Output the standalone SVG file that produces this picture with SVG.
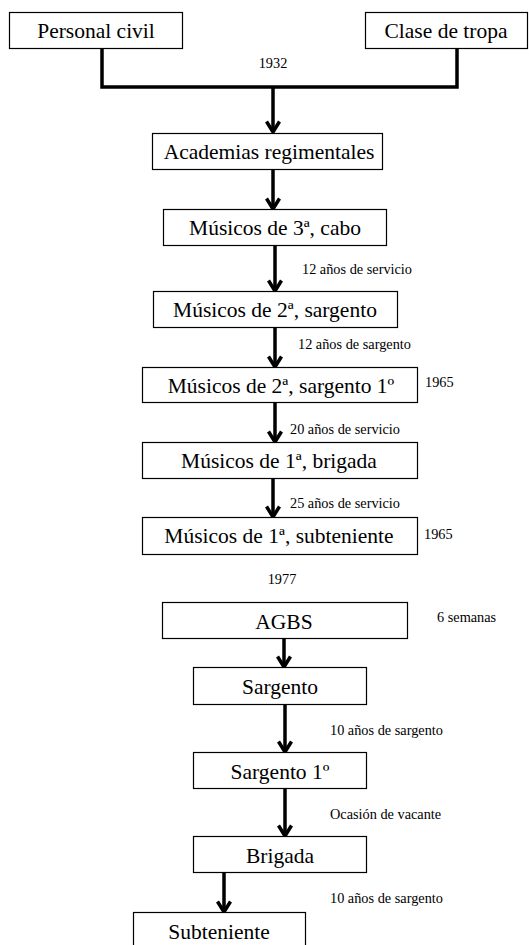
<svg xmlns="http://www.w3.org/2000/svg" width="529" height="945" viewBox="0 0 529 945">
<defs>
<style>
.box{fill:#fff;stroke:#000;stroke-width:1.2}
.lbl{font-family:"Liberation Serif","Times New Roman",serif;font-size:21.5px;fill:#000;text-anchor:middle}
.note{font-family:"Liberation Serif","Times New Roman",serif;font-size:14.3px;fill:#000}
.mid{text-anchor:middle}
.conn{fill:none;stroke:#000;stroke-width:3.5}
</style>
<marker id="ah" viewBox="0 0 14 16" refX="12" refY="8" markerWidth="14" markerHeight="16" markerUnits="userSpaceOnUse" orient="auto">
<path d="M1.5,1.5 L12,8 L1.5,14.5" fill="none" stroke="#000" stroke-width="3.5"/>
</marker>
</defs>
<rect width="529" height="945" fill="#fff"/>
<g id="connectors">
<path class="conn" d="M102,48 V87 H457 V48"/>
<path class="conn" d="M273,87 V132" marker-end="url(#ah)"/>
<path class="conn" d="M273,170 V209" marker-end="url(#ah)"/>
<path class="conn" d="M275,246 V291" marker-end="url(#ah)"/>
<path class="conn" d="M275,328 V367" marker-end="url(#ah)"/>
<path class="conn" d="M275,403 V442" marker-end="url(#ah)"/>
<path class="conn" d="M273,479 V517" marker-end="url(#ah)"/>
<path class="conn" d="M284,639 V667" marker-end="url(#ah)"/>
<path class="conn" d="M285,705 V752" marker-end="url(#ah)"/>
<path class="conn" d="M285,789 V836" marker-end="url(#ah)"/>
<path class="conn" d="M224,873 V912" marker-end="url(#ah)"/>
</g>
<g id="labels">
<text class="note mid" x="273" y="68">1932</text>
<text class="note" x="302" y="274">12 años de servicio</text>
<text class="note" x="298" y="349">12 años de sargento</text>
<text class="note" x="425" y="387">1965</text>
<text class="note" x="290" y="434">20 años de servicio</text>
<text class="note" x="290" y="508">25 años de servicio</text>
<text class="note" x="424" y="539">1965</text>
<text class="note mid" x="282" y="584">1977</text>
<text class="note" x="437" y="622">6 semanas</text>
<text class="note" x="330" y="735">10 años de sargento</text>
<text class="note" x="330" y="819">Ocasión de vacante</text>
<text class="note" x="330" y="903">10 años de sargento</text>
</g>
<g id="personal-civil"><rect class="box" x="9.5" y="12.5" width="173" height="36"/><text class="lbl" x="96" y="38">Personal civil</text></g>
<g id="clase-de-tropa"><rect class="box" x="365.5" y="12.5" width="162" height="36"/><text class="lbl" x="446" y="38">Clase de tropa</text></g>
<g id="academias"><rect class="box" x="152.5" y="133.5" width="230" height="36"/><text class="lbl" x="269" y="159">Academias regimentales</text></g>
<g id="musicos-3"><rect class="box" x="163.5" y="209.5" width="223" height="36"/><text class="lbl" x="275" y="235">Músicos de 3ª, cabo</text></g>
<g id="musicos-2-sargento"><rect class="box" x="153.5" y="291.5" width="244" height="36"/><text class="lbl" x="275" y="317">Músicos de 2ª, sargento</text></g>
<g id="musicos-2-sargento1"><rect class="box" x="142.5" y="367.5" width="275" height="35"/><text class="lbl" x="281" y="393">Músicos de 2ª, sargento 1º</text></g>
<g id="musicos-1-brigada"><rect class="box" x="142.5" y="442.5" width="275" height="36"/><text class="lbl" x="279" y="468">Músicos de 1ª, brigada</text></g>
<g id="musicos-1-subteniente"><rect class="box" x="142.5" y="517.5" width="275" height="37"/><text class="lbl" x="279" y="543">Músicos de 1ª, subteniente</text></g>
<g id="agbs"><rect class="box" x="162.5" y="602.5" width="245" height="36"/><text class="lbl" x="284" y="629">AGBS</text></g>
<g id="sargento"><rect class="box" x="193.5" y="667.5" width="173" height="37"/><text class="lbl" x="280" y="694">Sargento</text></g>
<g id="sargento1"><rect class="box" x="193.5" y="752.5" width="173" height="36"/><text class="lbl" x="280" y="779">Sargento 1º</text></g>
<g id="brigada"><rect class="box" x="193.5" y="836.5" width="173" height="36"/><text class="lbl" x="280" y="863">Brigada</text></g>
<g id="subteniente"><rect class="box" x="133.5" y="912.5" width="172" height="45"/><text class="lbl" x="219" y="939">Subteniente</text></g>
</svg>
